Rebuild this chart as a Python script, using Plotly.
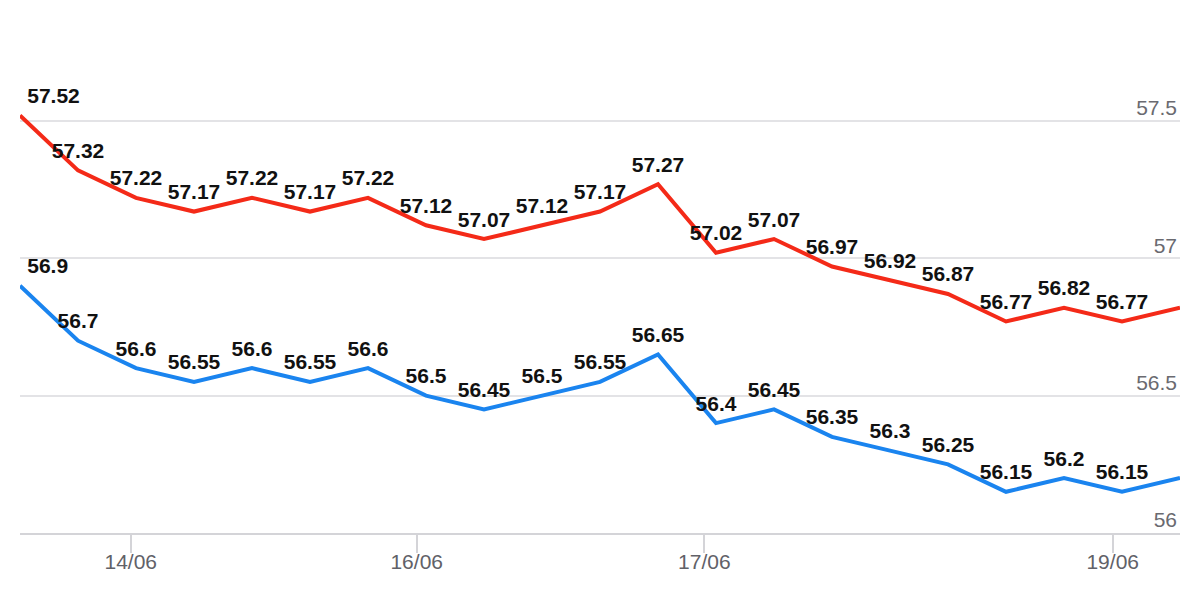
import plotly.graph_objects as go

# ---- data ----
point_index = list(range(21))
red_values = [57.52, 57.32, 57.22, 57.17, 57.22, 57.17, 57.22, 57.12, 57.07, 57.12,
              57.17, 57.27, 57.02, 57.07, 56.97, 56.92, 56.87, 56.77, 56.82, 56.77, 56.82]
blue_values = [56.9, 56.7, 56.6, 56.55, 56.6, 56.55, 56.6, 56.5, 56.45, 56.5,
               56.55, 56.65, 56.4, 56.45, 56.35, 56.3, 56.25, 56.15, 56.2, 56.15, 56.2]
x_tick_positions = [1.91, 6.84, 11.8, 18.84]
x_tick_labels = ["14/06", "16/06", "17/06", "19/06"]
y_tick_values = [56, 56.5, 57, 57.5]
y_tick_labels = ["56", "56.5", "57", "57.5"]


def labels(vals):
    # last point carries no label in the reference
    return [f"{v:g}" for v in vals[:-1]] + [""]


def positions(vals):
    return ["top right"] + ["top center"] * (len(vals) - 1)


fig = go.Figure()
for vals, color in [(red_values, "#f42a18"), (blue_values, "#1a84ef")]:
    fig.add_trace(go.Scatter(
        x=point_index, y=vals,
        mode="lines+markers+text",
        line=dict(color=color, width=4),
        marker=dict(size=10, opacity=0),
        text=labels(vals),
        textposition=positions(vals),
        textfont=dict(family="Liberation Sans, Arial, sans-serif", size=21, color="#111111",
                      weight="bold"),
        cliponaxis=False,
        showlegend=False,
        hoverinfo="x+y",
    ))

fig.update_layout(
    width=1200, height=600,
    margin=dict(l=12, r=28, t=0, b=75),
    paper_bgcolor="white", plot_bgcolor="white",
    font=dict(family="Liberation Sans, Arial, sans-serif"),
    xaxis=dict(
        range=[0, 20], automargin=False,
        tickmode="array", tickvals=x_tick_positions, ticktext=x_tick_labels,
        showgrid=False, zeroline=False,
        showline=True, linecolor="#d4d4d8", linewidth=2,
        ticks="outside", ticklen=18, tickwidth=1.5, tickcolor="#d4d4d8",
        ticklabelstandoff=-9,
        tickfont=dict(size=21, color="#616168"),
    ),
    yaxis=dict(
        range=[56, 57.911], automargin=False,
        tickmode="array", tickvals=y_tick_values, ticktext=y_tick_labels,
        side="right", ticklabelposition="inside",
        ticklabelshift=-13, ticklabelstandoff=0,
        showgrid=True, gridcolor="#e3e3e6", gridwidth=1.5,
        zeroline=False, showline=False, ticks="",
        tickfont=dict(size=21, color="#6a6a70"),
    ),
)

fig.write_html("out.html")
